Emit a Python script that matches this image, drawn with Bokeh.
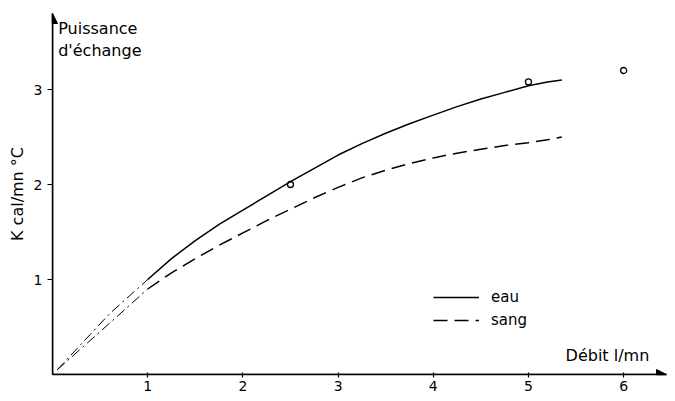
from bokeh.plotting import figure
from bokeh.models import Label, Arrow, NormalHead, Legend, LegendItem, FixedTicker, Range1d
from bokeh.embed import file_html
from bokeh.resources import INLINE

# Data
eau_x = [1.0, 1.25, 1.5, 1.75, 2.0, 2.25, 2.5, 2.75, 3.0, 3.25, 3.5, 3.75, 4.0, 4.25, 4.5, 4.75, 5.0, 5.2, 5.35]
eau_y = [1.0, 1.22, 1.41, 1.58, 1.73, 1.88, 2.03, 2.17, 2.31, 2.43, 2.54, 2.64, 2.73, 2.82, 2.90, 2.97, 3.04, 3.08, 3.10]
sang_x = [1.0, 1.25, 1.5, 1.75, 2.0, 2.25, 2.5, 2.75, 3.0, 3.25, 3.5, 3.75, 4.0, 4.25, 4.5, 4.75, 5.0, 5.2, 5.35]
sang_y = [0.90, 1.07, 1.22, 1.36, 1.49, 1.62, 1.74, 1.86, 1.97, 2.07, 2.15, 2.22, 2.28, 2.33, 2.37, 2.41, 2.44, 2.47, 2.50]
eau_ext_x = [0.05, 0.6, 1.0]
eau_ext_y = [0.05, 0.64, 1.0]
sang_ext_x = [0.05, 0.6, 1.0]
sang_ext_y = [0.05, 0.54, 0.90]
pts_x = [2.5, 5.0, 6.0]
pts_y = [2.0, 3.08, 3.2]
x_ticks = [1, 2, 3, 4, 5, 6]
y_ticks = [1, 2, 3]

FONT = "DejaVu Sans"

p = figure(width=667, height=393, output_backend="svg", toolbar_location=None,
           x_range=Range1d(0, 6.45), y_range=Range1d(0, 3.8),
           min_border_left=52, min_border_right=1, min_border_top=13, min_border_bottom=17)
p.outline_line_color = None
p.grid.visible = False
p.background_fill_color = "white"

for ax in (p.xaxis[0], p.yaxis[0]):
    ax.axis_line_color = "black"
    ax.axis_line_width = 1.5
    ax.major_tick_line_color = "black"
    ax.major_tick_line_width = 1.2
    ax.minor_tick_line_color = None
    ax.major_label_text_font = FONT
    ax.major_label_text_font_size = "14px"
    ax.major_label_text_color = "black"
p.xaxis.ticker = FixedTicker(ticks=x_ticks)
p.yaxis.ticker = FixedTicker(ticks=y_ticks)
p.xaxis.major_tick_in = 2
p.xaxis.major_tick_out = 3
p.yaxis.major_tick_in = 0
p.yaxis.major_tick_out = 5
p.xaxis.major_label_standoff = 3
p.yaxis.major_label_standoff = 5
p.yaxis.axis_label = "K cal/mn °C"
p.yaxis.axis_label_text_font = FONT
p.yaxis.axis_label_text_font_size = "16px"
p.yaxis.axis_label_text_font_style = "normal"
p.yaxis.axis_label_text_color = "black"
p.yaxis.axis_label_standoff = 4

# axis arrows
p.add_layout(Arrow(end=NormalHead(size=10, fill_color="black", line_color="black"),
                   x_start=0, y_start=0, x_end=6.45, y_end=0, line_width=1.5))
p.add_layout(Arrow(end=NormalHead(size=10, fill_color="black", line_color="black"),
                   x_start=0, y_start=0, x_end=0, y_end=3.8, line_width=1.5))

r_eau = p.line(eau_x, eau_y, line_color="black", line_width=1.5)
r_sang = p.line(sang_x, sang_y, line_color="black", line_width=1.5, line_dash="14 7")
p.line(eau_ext_x, eau_ext_y, line_color="black", line_width=1.0, line_dash="10 4 2 4")
p.line(sang_ext_x, sang_ext_y, line_color="black", line_width=1.0, line_dash="10 4 2 4")
p.scatter(pts_x, pts_y, size=6, marker="circle", fill_color=None, line_color="black", line_width=1.3)

legend = Legend(items=[LegendItem(label="eau", renderers=[r_eau]),
                       LegendItem(label="sang", renderers=[r_sang])],
                location=(381, 44), glyph_width=46, glyph_height=20, label_height=20,
                label_standoff=12, spacing=3, padding=0, margin=0,
                border_line_color=None, background_fill_alpha=0,
                label_text_font=FONT, label_text_font_size="15px", label_text_color="black")
p.add_layout(legend, "center")

p.add_layout(Label(x=0.06, y=3.64, text="Puissance", text_font=FONT, text_font_size="16px",
                   text_color="black", text_baseline="middle", text_align="left"))
p.add_layout(Label(x=0.06, y=3.41, text="d'échange", text_font=FONT, text_font_size="16px",
                   text_color="black", text_baseline="middle", text_align="left"))
p.add_layout(Label(x=5.39, y=0.2, text="Débit l/mn", text_font=FONT, text_font_size="16px",
                   text_color="black", text_baseline="middle", text_align="left"))

open("out.html", "w").write(file_html(p, INLINE))
